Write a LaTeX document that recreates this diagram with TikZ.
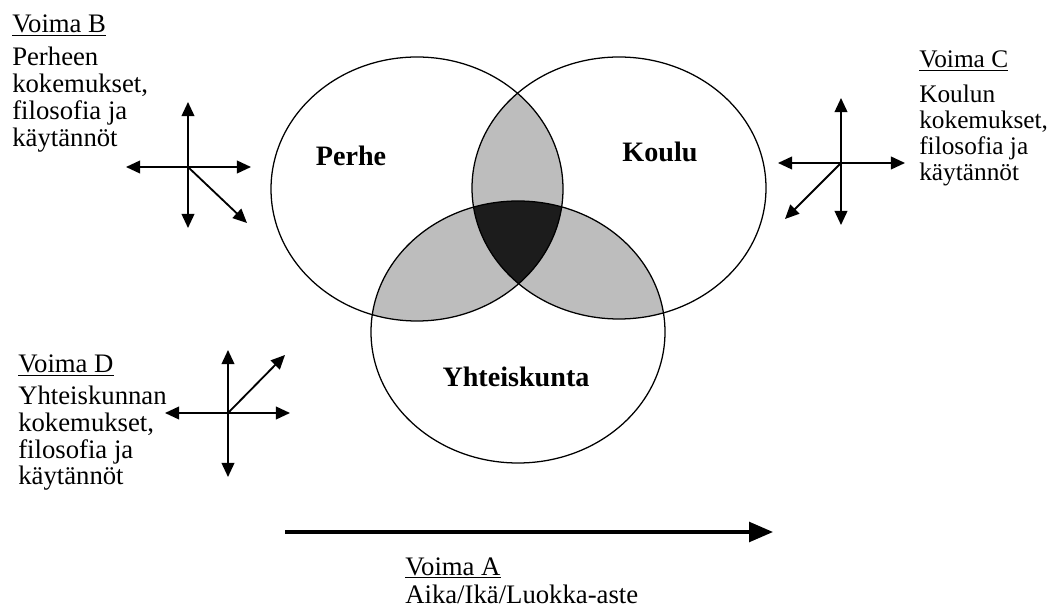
\documentclass[tikz,border=0pt]{standalone}
\usepackage{fontspec}
\setmainfont{Liberation Serif}
\usetikzlibrary{arrows.meta}
\definecolor{lightshade}{HTML}{BDBDBD}
\definecolor{darkshade}{HTML}{1C1C1C}
\begin{document}
\begin{tikzpicture}[x=0.025cm,y=-0.025cm,
  ring/.style={line width=0.9pt},
  cross/.style={line width=1.3pt,-{Triangle[length=10pt,width=9pt]}},
  bigarrow/.style={line width=2.4pt,-{Triangle[length=17pt,width=14pt]}},
  head/.style={font=\fontsize{19}{19.2}\selectfont, inner sep=0pt, anchor=base west},
  body/.style={font=\fontsize{19}{19.2}\selectfont, inner sep=0pt, align=left, anchor=base west},
  setname/.style={font=\fontsize{20}{22}\selectfont\bfseries, inner sep=0pt}]
\useasboundingbox (0,0) rectangle (1052,615);
\fill[white] (0,0) rectangle (1052,615);
% pairwise overlaps
\begin{scope}
  \clip (417,189) ellipse [x radius=146, y radius=132];
  \fill[lightshade] (619,188) ellipse [x radius=147, y radius=131];
\end{scope}
\begin{scope}
  \clip (417,189) ellipse [x radius=146, y radius=132];
  \fill[lightshade] (518,332) ellipse [x radius=147, y radius=131];
\end{scope}
\begin{scope}
  \clip (619,188) ellipse [x radius=147, y radius=131];
  \fill[lightshade] (518,332) ellipse [x radius=147, y radius=131];
\end{scope}
% triple overlap
\begin{scope}
  \clip (417,189) ellipse [x radius=146, y radius=132];
  \clip (619,188) ellipse [x radius=147, y radius=131];
  \fill[darkshade] (518,332) ellipse [x radius=147, y radius=131];
\end{scope}
% outlines
\draw[ring] (417,189) ellipse [x radius=146, y radius=132];
\draw[ring] (619,188) ellipse [x radius=147, y radius=131];
\draw[ring] (518,332) ellipse [x radius=147, y radius=131];
% set names
\node[setname] (perhe) at (351,156) {Perhe};
\node[setname] (koulu) at (660,152) {Koulu};
\node[setname] (yht) at (516,377) {Yhteiskunta};
% Voima B (body anchored at baseline of its last line)
\node[head] (hB) at (12,33) {\underline{Voima B}};
\node[body] (tB) at (12,147) {Perheen\\kokemukset,\\filosofia ja\\käytännöt};
\coordinate (bC) at (188,167);
\coordinate (bU) at (188,102);
\coordinate (bD) at (188,228);
\coordinate (bL) at (126,167);
\coordinate (bR) at (251,167);
\coordinate (bX) at (247,223);
\draw[cross] (bC) -- (bU);
\draw[cross] (bC) -- (bD);
\draw[cross] (bC) -- (bL);
\draw[cross] (bC) -- (bR);
\draw[cross] (bC) -- (bX);
% Voima C
\node[head, font=\fontsize{18}{18.6}\selectfont] (hC) at (919,68) {\underline{Voima C}};
\node[body, font=\fontsize{18}{18.6}\selectfont] (tC) at (919,181) {Koulun\\kokemukset,\\filosofia ja\\käytännöt};
\coordinate (cC) at (841,163);
\coordinate (cU) at (841,98);
\coordinate (cD) at (841,225);
\coordinate (cL) at (778,163);
\coordinate (cR) at (905,163);
\coordinate (cX) at (785,219);
\draw[cross] (cC) -- (cU);
\draw[cross] (cC) -- (cD);
\draw[cross] (cC) -- (cL);
\draw[cross] (cC) -- (cR);
\draw[cross] (cC) -- (cX);
% Voima D
\node[head] (hD) at (18,373) {\underline{Voima D}};
\node[body] (tD) at (18,485) {Yhteiskunnan\\kokemukset,\\filosofia ja\\käytännöt};
\coordinate (dC) at (228,413);
\coordinate (dU) at (228,350);
\coordinate (dD) at (228,477);
\coordinate (dL) at (165,413);
\coordinate (dR) at (290,413);
\coordinate (dX) at (285,355);
\draw[cross] (dC) -- (dU);
\draw[cross] (dC) -- (dD);
\draw[cross] (dC) -- (dL);
\draw[cross] (dC) -- (dR);
\draw[cross] (dC) -- (dX);
% Voima A
\coordinate (aS) at (285,532);
\coordinate (aE) at (773,532);
\draw[bigarrow] (aS) -- (aE);
\node[head] (hA) at (405,575) {\underline{Voima A}};
\node[head] (tA) at (405,603) {Aika/Ikä/Luokka-aste};
\end{tikzpicture}
\end{document}
